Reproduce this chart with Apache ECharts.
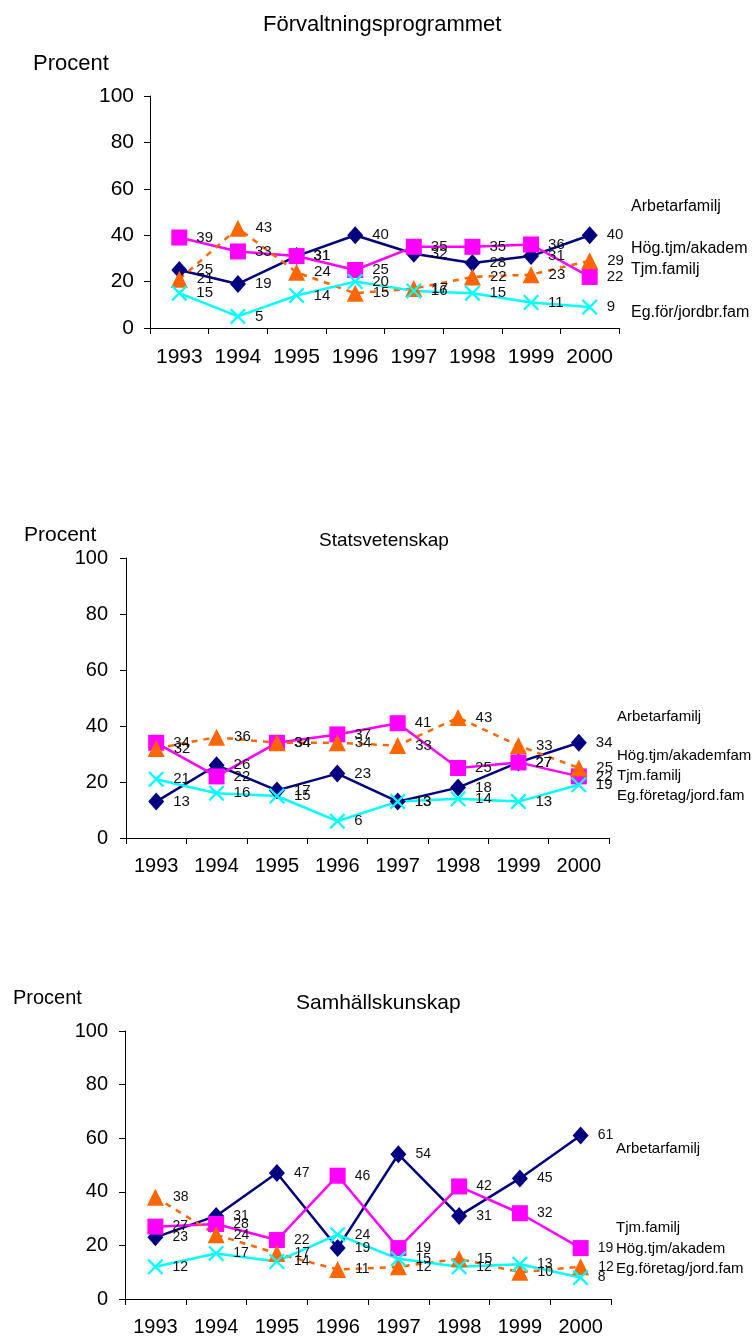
<!DOCTYPE html>
<html>
<head>
<meta charset="utf-8">
<script src="https://cdn.jsdelivr.net/npm/echarts@6/dist/echarts.min.js"></script>
<style>
  html, body { margin: 0; padding: 0; background: #fff; }
  #chart { width: 755px; height: 1338px; }
</style>
</head>
<body>
<div id="chart"></div>
<script>
// 年份
const years = ["1993", "1994", "1995", "1996", "1997", "1998", "1999", "2000"];
const yTicks = [0, 20, 40, 60, 80, 100];

// Förvaltningsprogrammet
const forvArbetar = [25, 19, 31, 40, 32, 28, 31, 40];
const forvTjm = [39, 33, 31, 25, 35, 35, 36, 22];
const forvHog = [21, 43, 24, 15, 17, 22, 23, 29];
const forvEg = [15, 5, 14, 20, 16, 15, 11, 9];

// Statsvetenskap
const statArbetar = [13, 26, 17, 23, 13, 18, 27, 34];
const statTjm = [34, 22, 34, 37, 41, 25, 27, 22];
const statHog = [32, 36, 34, 34, 33, 43, 33, 25];
const statEg = [21, 16, 15, 6, 13, 14, 13, 19];

// Samhällskunskap
const samhArbetar = [23, 31, 47, 19, 54, 31, 45, 61];
const samhTjm = [27, 28, 22, 46, 19, 42, 32, 19];
const samhHog = [38, 24, 17, 11, 12, 15, 10, 12];
const samhEg = [12, 17, 14, 24, 15, 12, 13, 8];

const FONT = "Liberation Sans, Arial, sans-serif";
const X_SYMBOL = "path://M0,1 L1,0 L5,4 L9,0 L10,1 L6,5 L10,9 L9,10 L5,6 L1,10 L0,9 L4,5 Z";

const grids = [
  { left: 150, top: 96, width: 469, height: 232 },
  { left: 126, top: 558, width: 483, height: 280 },
  { left: 125, top: 1031, width: 486, height: 268 },
];

const tickFont = [21, 20, 20];
const yLabelMargin = [16, 18, 17];
const xLabelMargin = [19, 18, 18];
const dataFont = [15, 15, 14];

/** 生成一组四条折线 */
const makeSeries = (idx, arb, tjm, hog, eg) => {
  const label = {
    show: true,
    position: "right",
    distance: 9,
    color: "#111",
    fontSize: dataFont[idx],
    fontFamily: FONT,
  };
  const base = { type: "line", xAxisIndex: idx, yAxisIndex: idx, label, z: 3 };
  return [
    { ...base, name: "Arbetarfamilj", data: arb, symbol: "diamond", symbolSize: [16, 18],
      itemStyle: { color: "#000080" }, lineStyle: { color: "#000080", width: 2.5 } },
    { ...base, name: "Tjm.familj", data: tjm, symbol: "rect", symbolSize: 16,
      itemStyle: { color: "#FF00FF" }, lineStyle: { color: "#FF00FF", width: 2.5 } },
    { ...base, name: "Hög.tjm/akadem", data: hog, symbol: "triangle", symbolSize: [17, 17],
      itemStyle: { color: "#FF6600" }, lineStyle: { color: "#FF6600", width: 2.5, type: [6, 6] } },
    { ...base, name: "Eg.företag", data: eg, symbol: X_SYMBOL, symbolSize: 16,
      itemStyle: { color: "#00FFFF" }, lineStyle: { color: "#00FFFF", width: 2.5 } },
  ];
};

const xAxes = grids.map((g, i) => ({
  type: "category",
  gridIndex: i,
  data: years,
  boundaryGap: true,
  axisLine: { lineStyle: { color: "#000", width: 1 } },
  axisTick: { show: true, length: 6, interval: 0, lineStyle: { color: "#000" } },
  axisLabel: { color: "#000", fontSize: tickFont[i], fontFamily: FONT, margin: xLabelMargin[i], interval: 0 },
}));

const yAxes = grids.map((g, i) => ({
  type: "value",
  gridIndex: i,
  min: yTicks[0],
  max: yTicks[yTicks.length - 1],
  interval: yTicks[1] - yTicks[0],
  splitLine: { show: false },
  axisLine: { show: true, lineStyle: { color: "#000", width: 1 } },
  axisTick: { show: true, length: 6, lineStyle: { color: "#000" } },
  axisLabel: { color: "#000", fontSize: tickFont[i], fontFamily: FONT, margin: yLabelMargin[i] },
}));

// 文字 (x = 左边, y = 垂直中心)
const txt = (x, y, text, size) => ({
  type: "text",
  x,
  y,
  style: { text, fill: "#000", font: `${size}px ${FONT}`, verticalAlign: "middle" },
});

const options = {
  backgroundColor: "#fff",
  animation: false,
  grid: grids,
  xAxis: xAxes,
  yAxis: yAxes,
  graphic: [
    txt(263, 25, "Förvaltningsprogrammet", 22),
    txt(319, 541, "Statsvetenskap", 19),
    txt(296, 1003, "Samhällskunskap", 21),
    txt(33, 64, "Procent", 22),
    txt(24, 535, "Procent", 21),
    txt(13, 998, "Procent", 20),
    txt(631, 207, "Arbetarfamilj", 16),
    txt(631, 249, "Hög.tjm/akadem", 16),
    txt(631, 270, "Tjm.familj", 16),
    txt(631, 313, "Eg.för/jordbr.fam", 16),
    txt(617, 717, "Arbetarfamilj", 15),
    txt(617, 756, "Hög.tjm/akademfam", 15),
    txt(617, 776, "Tjm.familj", 15),
    txt(617, 796, "Eg.företag/jord.fam", 15),
    txt(616, 1149, "Arbetarfamilj", 15),
    txt(616, 1228, "Tjm.familj", 15),
    txt(616, 1249, "Hög.tjm/akadem", 15),
    txt(616, 1269, "Eg.företag/jord.fam", 15),
  ],
  series: [
    ...makeSeries(0, forvArbetar, forvTjm, forvHog, forvEg),
    ...makeSeries(1, statArbetar, statTjm, statHog, statEg),
    ...makeSeries(2, samhArbetar, samhTjm, samhHog, samhEg),
  ],
};

const chart = echarts.init(document.getElementById("chart"));
chart.setOption(options);
</script>
</body>
</html>
